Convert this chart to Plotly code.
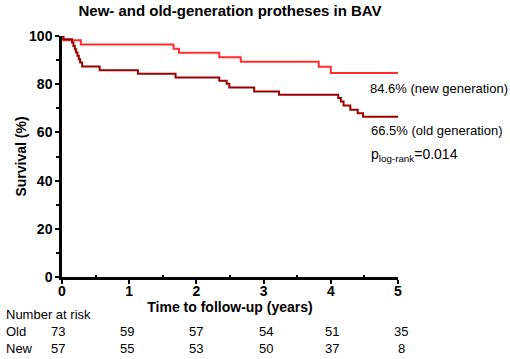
import plotly.graph_objects as go

# Kaplan-Meier step data (years, survival %)
new_t = [0, 0.02, 0.28, 1.66, 1.74, 2.34, 2.66, 3.82, 4.00, 5.00]
new_s = [100, 98.2, 96.5, 94.7, 93.0, 91.2, 89.3, 87.2, 84.6, 84.6]

old_t = [0, 0.02, 0.15, 0.17, 0.19, 0.21, 0.23, 0.25, 0.27, 0.30, 0.56, 1.13, 1.69,
         2.34, 2.45, 2.49, 2.86, 3.23, 4.11, 4.15, 4.19, 4.29, 4.40, 4.48, 5.0]
old_s = [100, 98.6, 97.3, 95.9, 94.5, 93.2, 91.8, 90.4, 89.0, 87.3, 85.8, 84.3, 82.8,
         81.4, 80.2, 78.6, 77.0, 75.6, 74.3, 72.8, 71.2, 69.4, 67.9, 66.5, 66.5]

risk_years = [0, 1, 2, 3, 4, 5]
risk_old = [73, 59, 57, 54, 51, 35]
risk_new = [57, 55, 53, 50, 37, 8]
row_labels = ["Old", "New"]

FONT = "Arial, Liberation Sans, sans-serif"
TXT = dict(family=FONT, size=13, color="black")

fig = go.Figure()
fig.add_trace(go.Scatter(x=new_t, y=new_s, mode="lines", line=dict(shape="hv", color="#ff2d2d", width=2),
                         showlegend=False, hoverinfo="skip"))
fig.add_trace(go.Scatter(x=old_t, y=old_s, mode="lines", line=dict(shape="hv", color="#9b0000", width=2),
                         showlegend=False, hoverinfo="skip"))

PL, PR, PT, PB = 62, 398, 36, 277


def px(pix):
    return (pix - PL) / float(PR - PL)


def py(pix):
    return (PB - pix) / float(PB - PT)


ann = []
ann.append(dict(x=px(368), y=py(88), xref="paper", yref="paper", text="84.6% (new generation)", showarrow=False,
                xanchor="left", yanchor="middle", font=TXT))
ann.append(dict(x=px(369), y=py(130), xref="paper", yref="paper", text="66.5% (old generation)", showarrow=False,
                xanchor="left", yanchor="middle", font=TXT))
ann.append(dict(x=px(369), y=py(155), xref="paper", yref="paper", text="p<sub>log-rank</sub>=0.014", showarrow=False,
                xanchor="left", yanchor="middle", font=dict(family=FONT, size=14, color="black")))

ann.append(dict(x=px(4), y=py(314), xref="paper", yref="paper", text="Number at risk", showarrow=False,
                xanchor="left", yanchor="middle", font=TXT))
for lab, ypix in zip(row_labels, [331, 348]):
    ann.append(dict(x=px(4), y=py(ypix), xref="paper", yref="paper", text=lab, showarrow=False,
                    xanchor="left", yanchor="middle", font=TXT))
col_shift = [-4, -2, 0, 2, 1, 3]
for yr, o, n, sh in zip(risk_years, risk_old, risk_new, col_shift):
    ann.append(dict(x=yr, y=py(331), xref="x", yref="paper", xshift=sh, text=str(o), showarrow=False,
                    xanchor="center", yanchor="middle", font=TXT))
    ann.append(dict(x=yr, y=py(348), xref="x", yref="paper", xshift=sh, text=str(n), showarrow=False,
                    xanchor="center", yanchor="middle", font=TXT))

fig.update_layout(
    width=510, height=359,
    margin=dict(l=PL, r=510 - PR, t=PT, b=359 - PB),
    paper_bgcolor="white", plot_bgcolor="white",
    title=dict(text="<b>New- and old-generation protheses in BAV</b>", x=230 / 510, xref="container",
               xanchor="center", y=1 - 11 / 359, yref="container", yanchor="middle",
               font=dict(family=FONT, size=15, color="black")),
    annotations=ann,
    xaxis=dict(range=[0, 5], tickvals=[0, 1, 2, 3, 4, 5], showgrid=False, zeroline=False,
               showline=True, linecolor="black", linewidth=2.5, ticks="outside", ticklen=4,
               tickwidth=2, tickcolor="black", ticklabelstandoff=-5,
               minor=dict(tickvals=[0.5, 1.5, 2.5, 3.5, 4.5], ticks="inside", ticklen=2, tickwidth=2, tickcolor="black"),
               tickfont=dict(family=FONT, size=14, color="black", weight="bold"),
               title=dict(text="<b>Time to follow-up (years)</b>", standoff=5,
                          font=dict(family=FONT, size=14, color="black"))),
    yaxis=dict(range=[0, 100], tickvals=[0, 20, 40, 60, 80, 100], showgrid=False, zeroline=False,
               showline=True, linecolor="black", linewidth=2.5, ticks="outside", ticklen=4,
               tickwidth=2, tickcolor="black",
               minor=dict(tickvals=[10, 30, 50, 70, 90], ticks="outside", ticklen=3, tickwidth=2, tickcolor="black"),
               tickfont=dict(family=FONT, size=14, color="black", weight="bold"),
               title=dict(text="<b>Survival (%)</b>", standoff=0,
                          font=dict(family=FONT, size=14, color="black"))),
)

fig.write_html("out.html", config={"displayModeBar": False},
               post_script="document.body.style.margin='0';document.body.style.padding='0';")
